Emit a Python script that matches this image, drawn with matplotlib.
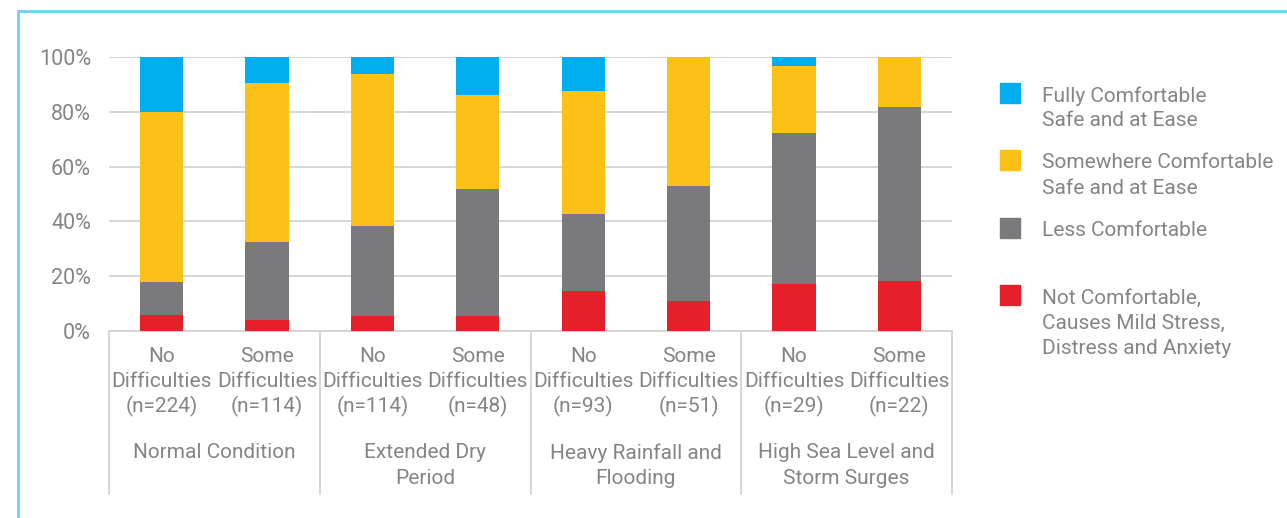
import numpy as np
import matplotlib
matplotlib.use("Agg")
import matplotlib.pyplot as plt
import matplotlib.patches as mpatches

# data: percentage share of each comfort level per bar
bar_lines = [
    ("No", "Difficulties", "(n=224)"),
    ("Some", "Difficulties", "(n=114)"),
    ("No", "Difficulties", "(n=114)"),
    ("Some", "Difficulties", "(n=48)"),
    ("No", "Difficulties", "(n=93)"),
    ("Some", "Difficulties", "(n=51)"),
    ("No", "Difficulties", "(n=29)"),
    ("Some", "Difficulties", "(n=22)"),
]
groups = [
    ("Normal Condition",),
    ("Extended Dry", "Period"),
    ("Heavy Rainfall and", "Flooding"),
    ("High Sea Level and", "Storm Surges"),
]
not_comfortable = [6.0, 4.0, 5.4, 5.4, 14.5, 10.8, 17.2, 18.2]
less_comfortable = [12.0, 28.4, 32.8, 46.3, 28.1, 42.0, 55.2, 63.6]
somewhere_comfortable = [61.8, 58.1, 55.5, 34.3, 44.9, 47.2, 24.2, 18.2]
fully_comfortable = [20.2, 9.5, 6.3, 14.0, 12.5, 0.0, 3.4, 0.0]

legend_labels = [
    ("Fully Comfortable", "Safe and at Ease"),
    ("Somewhere Comfortable", "Safe and at Ease"),
    ("Less Comfortable",),
    ("Not Comfortable,", "Causes Mild Stress,", "Distress and Anxiety"),
]
colors = ["#00AEEF", "#FBC116", "#7A7A7C", "#E4202A"]  # same order as legend

TXT = "#858585"
GRID = "#D3D3D3"
FONT = "Roboto"
FS = 15

W, H = 1287, 518
fig = plt.figure(figsize=(W / 100, H / 100), dpi=100)

# plot area in pixel coords
x0, x1, y0, y1 = 109, 952, 331, 57
ax = fig.add_axes([x0 / W, (H - y0) / H, (x1 - x0) / W, (y0 - y1) / H])

def ay(ypix):
    # pixel row -> axes fraction
    return (y0 - ypix) / (y0 - y1)

x = np.arange(len(bar_lines))
stack = [not_comfortable, less_comfortable, somewhere_comfortable, fully_comfortable]
stack_colors = colors[::-1]
bottom = np.zeros(len(x))
for vals, c in zip(stack, stack_colors):
    ax.bar(x, vals, bottom=bottom, width=0.41, color=c, zorder=3)
    bottom += np.array(vals)

ax.set_xlim(-0.5, len(x) - 0.5)
ax.set_ylim(0, 100)
ax.set_yticks([0, 20, 40, 60, 80, 100])
ax.set_yticklabels([f"{v}%" for v in [0, 20, 40, 60, 80, 100]],
                   fontsize=15.5, color=TXT, family=FONT)
ax.tick_params(axis="y", length=0, pad=13)
ax.set_xticks([])
ax.grid(axis="y", color=GRID, lw=1.3, zorder=0)
for s in ["top", "right", "left"]:
    ax.spines[s].set_visible(False)
ax.spines["bottom"].set_color(GRID)
ax.spines["bottom"].set_linewidth(1.3)

tr = ax.get_xaxis_transform()
# bar sub-labels
for i, lines in enumerate(bar_lines):
    for j, t in enumerate(lines):
        ax.text(i, ay(357 + 24.5 * j), t, transform=tr, ha="center", va="center",
                fontsize=FS, color=TXT, family=FONT)

# group labels and separators
for g, lines in enumerate(groups):
    cx = 2 * g + 0.5
    for j, t in enumerate(lines):
        ax.text(cx, ay(453 + 25 * j), t, transform=tr, ha="center", va="center",
                fontsize=FS, color=TXT, family=FONT)
for sx in np.arange(-0.5, len(x), 2.0):
    ax.plot([sx, sx], [0, ay(494)], transform=tr, color=GRID, lw=1.3, clip_on=False)

# legend drawn by hand
sq_tops = [83, 150, 218, 285]
for c, lab, top in zip(colors, legend_labels, sq_tops):
    fig.patches.append(mpatches.Rectangle((1000 / W, (H - top - 20) / H), 20 / W, 20 / H,
                                          color=c, transform=fig.transFigure))
    for j, t in enumerate(lab):
        fig.text(1042 / W, (H - (top + 13 + 25 * j)) / H, t, ha="left", va="center",
                 fontsize=FS, color=TXT, family=FONT)

# light blue frame
fig.patches.append(mpatches.Rectangle((18 / W, -0.1), 1.2, (H - 11) / H + 0.1, fill=False,
                                      edgecolor="#6CCFF6", lw=2, transform=fig.transFigure))

fig.savefig("out.png", dpi=100)
